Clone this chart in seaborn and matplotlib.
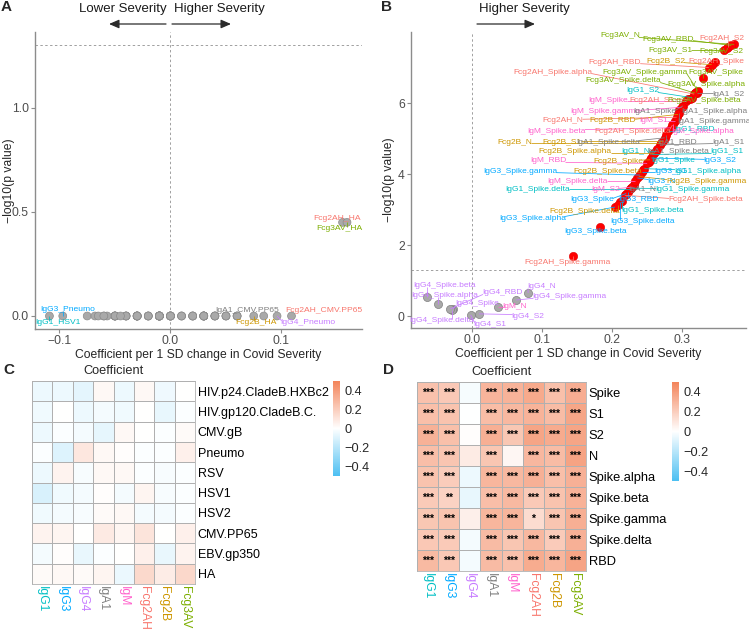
import numpy as np
import pandas as pd
import matplotlib
matplotlib.use("Agg")
import matplotlib.pyplot as plt
import seaborn as sns
from matplotlib.colors import LinearSegmentedColormap

sns.set_theme(style="white")
plt.rcParams['font.family'] = ['Liberation Sans', 'DejaVu Sans']
plt.rcParams['axes.unicode_minus'] = True

# ---------------- data ----------------
isotypes = ['IgG1', 'IgG3', 'IgG4', 'IgA1', 'IgM', 'Fcg2AH', 'Fcg2B', 'Fcg3AV']
iso_colors = {'IgG1': '#00BFC4', 'IgG3': '#00A9FF', 'IgG4': '#C77CFF', 'IgA1': '#7F7F7F',
              'IgM': '#FF61CC', 'Fcg2AH': '#F8766D', 'Fcg2B': '#CD9600', 'Fcg3AV': '#7CAE00'}

ctrl_antigens = ['HIV.p24.CladeB.HXBc2', 'HIV.gp120.CladeB.C.', 'CMV.gB', 'Pneumo', 'RSV',
                 'HSV1', 'HSV2', 'CMV.PP65', 'EBV.gp350', 'HA']
ctrl_coef = {
    'IgG1':   [-0.050, -0.040, -0.050, -0.010, -0.050, -0.109, -0.040, 0.050, -0.030, 0.020],
    'IgG3':   [-0.050, 0.000, -0.010, -0.097, 0.050, -0.040, -0.030, 0.040, 0.010, 0.030],
    'IgG4':   [-0.075, -0.050, -0.030, 0.096, -0.020, -0.030, -0.020, 0.000, -0.060, 0.020],
    'IgA1':   [0.030, -0.030, -0.068, 0.030, 0.030, 0.010, 0.020, 0.084, -0.010, 0.040],
    'IgM':    [-0.050, -0.040, 0.030, 0.010, 0.030, -0.030, 0.030, 0.040, 0.000, -0.057],
    'Fcg2AH': [0.030, 0.000, 0.000, -0.010, -0.010, 0.040, -0.030, 0.109, 0.060, 0.155],
    'Fcg2B':  [-0.045, -0.065, -0.010, -0.010, -0.020, -0.020, -0.030, 0.000, -0.060, 0.075],
    'Fcg3AV': [0.000, -0.010, 0.020, 0.060, -0.010, -0.010, -0.010, 0.060, 0.050, 0.159],
}
ctrl_neglogp = {
    'IgG1':   [0.00, 0.00, 0.00, 0.00, 0.00, 0.00, 0.00, 0.00, 0.00, 0.00],
    'IgG3':   [0.00, 0.00, 0.00, 0.00, 0.00, 0.00, 0.00, 0.00, 0.00, 0.00],
    'IgG4':   [0.00, 0.00, 0.00, 0.00, 0.00, 0.00, 0.00, 0.00, 0.00, 0.00],
    'IgA1':   [0.00, 0.00, 0.00, 0.00, 0.00, 0.00, 0.00, 0.00, 0.00, 0.00],
    'IgM':    [0.00, 0.00, 0.00, 0.00, 0.00, 0.00, 0.00, 0.00, 0.00, 0.00],
    'Fcg2AH': [0.00, 0.00, 0.00, 0.00, 0.00, 0.00, 0.00, 0.00, 0.00, 0.45],
    'Fcg2B':  [0.00, 0.00, 0.00, 0.00, 0.00, 0.00, 0.00, 0.00, 0.00, 0.00],
    'Fcg3AV': [0.00, 0.00, 0.00, 0.00, 0.00, 0.00, 0.00, 0.00, 0.00, 0.45],
}

cov_antigens = ['Spike', 'S1', 'S2', 'N', 'Spike.alpha', 'Spike.beta', 'Spike.gamma',
                'Spike.delta', 'RBD']
cov_coef = {
    'IgG1':   [0.252, 0.258, 0.314, 0.262, 0.246, 0.214, 0.227, 0.225, 0.280],
    'IgG3':   [0.220, 0.243, 0.256, 0.236, 0.204, 0.183, 0.240, 0.211, 0.223],
    'IgG4':   [-0.027, -0.002, 0.010, 0.080, -0.048, -0.064, 0.063, -0.028, -0.031],
    'IgA1':   [0.301, 0.268, 0.321, 0.231, 0.296, 0.264, 0.296, 0.275, 0.277],
    'IgM':    [0.305, 0.289, 0.229, 0.037, 0.287, 0.284, 0.299, 0.233, 0.250],
    'Fcg2AH': [0.347, 0.308, 0.366, 0.292, 0.317, 0.218, 0.144, 0.286, 0.338],
    'Fcg2B':  [0.254, 0.272, 0.342, 0.270, 0.260, 0.244, 0.238, 0.209, 0.294],
    'Fcg3AV': [0.330, 0.360, 0.364, 0.374, 0.320, 0.311, 0.322, 0.318, 0.370],
}
cov_neglogp = {
    'IgG1':   [4.35, 4.55, 6.15, 4.64, 4.15, 3.25, 3.60, 3.58, 5.20],
    'IgG3':   [3.45, 4.05, 4.45, 3.89, 3.07, 2.51, 3.97, 3.20, 3.50],
    'IgG4':   [0.19, 0.03, 0.06, 0.65, 0.34, 0.53, 0.45, 0.17, 0.20],
    'IgA1':   [5.92, 4.82, 6.27, 3.70, 5.80, 4.70, 5.72, 5.02, 5.10],
    'IgM':    [6.05, 5.50, 3.63, 0.25, 5.42, 5.30, 5.88, 3.80, 4.30],
    'Fcg2AH': [7.15, 6.10, 7.58, 5.60, 6.25, 3.40, 1.69, 5.38, 7.00],
    'Fcg2B':  [4.40, 4.92, 7.08, 4.87, 4.60, 4.10, 3.93, 3.12, 5.68],
    'Fcg3AV': [6.70, 7.50, 7.55, 7.65, 6.30, 6.12, 6.35, 6.28, 7.62],
}

# label placement (layout only): text centres in data units
labels_A = {
    'IgG3_Pneumo': (-0.093, 0.03), 'IgG1_HSV1': (-0.101, -0.03),
    'IgA1_CMV.PP65': (0.069, 0.025), 'Fcg2AH_CMV.PP65': (0.138, 0.025),
    'Fcg2B_HA': (0.077, -0.03), 'IgG4_Pneumo': (0.124, -0.03),
    'Fcg2AH_HA': (0.150, 0.47), 'Fcg3AV_HA': (0.152, 0.42),
}
labels_B = {
    'Fcg3AV_N': (0.211, 7.89), 'Fcg3AV_RBD': (0.28, 7.8), 'Fcg2AH_S2': (0.356, 7.83),
    'Fcg3AV_S1': (0.283, 7.49), 'Fcg3AV_S2': (0.356, 7.44),
    'Fcg2AH_RBD': (0.204, 7.15), 'Fcg2B_S2': (0.276, 7.18), 'Fcg2AH_Spike': (0.348, 7.18),
    'Fcg2AH_Spike.alpha': (0.116, 6.87), 'Fcg3AV_Spike.gamma': (0.247, 6.87),
    'Fcg3AV_Spike': (0.348, 6.87),
    'Fcg3AV_Spike.delta': (0.216, 6.62), 'Fcg3AV_Spike.alpha': (0.334, 6.53),
    'IgG1_S2': (0.243, 6.34), 'IgA1_S2': (0.366, 6.25),
    'IgM_Spike': (0.194, 6.08), 'Fcg2AH_S1': (0.257, 6.08), 'Fcg3AV_Spike.beta': (0.331, 6.08),
    'IgM_Spike.gamma': (0.19, 5.75), 'IgA1_Spike': (0.261, 5.75), 'IgA1_Spike.alpha': (0.346, 5.75),
    'Fcg2AH_N': (0.13, 5.5), 'Fcg2B_RBD': (0.201, 5.5), 'IgM_S1': (0.259, 5.5),
    'IgA1_Spike.gamma': (0.345, 5.47),
    'IgM_Spike.beta': (0.121, 5.21), 'Fcg2AH_Spike.delta': (0.229, 5.21),
    'IgG1_RBD': (0.317, 5.24), 'IgM_Spike.alpha': (0.329, 5.21),
    'Fcg2B_N': (0.061, 4.9), 'Fcg2B_S1': (0.129, 4.9), 'IgA1_Spike.delta': (0.194, 4.9),
    'IgA1_RBD': (0.293, 4.9), 'IgA1_S1': (0.366, 4.9),
    'Fcg2B_Spike.alpha': (0.147, 4.62), 'IgG1_N': (0.233, 4.62), 'IgA1_Spike.beta': (0.294, 4.62),
    'IgG1_S1': (0.364, 4.62),
    'IgM_RBD': (0.109, 4.37), 'Fcg2B_Spike': (0.209, 4.35), 'IgG1_Spike': (0.287, 4.37),
    'IgG3_S2': (0.354, 4.37),
    'IgG3_Spike.gamma': (0.069, 4.08), 'Fcg2B_Spike.beta': (0.194, 4.08), 'IgG3_S1': (0.283, 4.08),
    'IgG1_Spike.alpha': (0.336, 4.08),
    'IgM_Spike.delta': (0.151, 3.8), 'IgG3_N': (0.271, 3.8), 'Fcg2B_Spike.gamma': (0.334, 3.8),
    'IgG1_Spike.delta': (0.094, 3.55), 'IgM_S2': (0.19, 3.55), 'IgA1_N': (0.243, 3.55),
    'IgG1_Spike.gamma': (0.314, 3.55),
    'IgG3_Spike': (0.171, 3.27), 'IgG3_RBD': (0.237, 3.27), 'Fcg2AH_Spike.beta': (0.333, 3.27),
    'Fcg2B_Spike.delta': (0.161, 2.93), 'IgG1_Spike.beta': (0.257, 2.96),
    'IgG3_Spike.alpha': (0.086, 2.76), 'IgG3_Spike.delta': (0.243, 2.65),
    'IgG3_Spike.beta': (0.176, 2.37), 'Fcg2AH_Spike.gamma': (0.136, 1.52),
    'IgG4_Spike.beta': (-0.039, 0.87), 'IgG4_Spike.alpha': (-0.039, 0.59),
    'IgG4_RBD': (0.043, 0.65), 'IgG4_N': (0.099, 0.82), 'IgG4_Spike.gamma': (0.139, 0.54),
    'IgG4_Spike': (0.007, 0.34), 'IgM_N': (0.061, 0.28), 'IgG4_S2': (0.08, 0.0),
    'IgG4_Spike.delta': (-0.043, -0.14), 'IgG4_S1': (0.026, -0.23),
}

SIG = -np.log10(0.05)


def build(antigens, coef, nlp):
    rows = []
    for iso in isotypes:
        for ag, c, p in zip(antigens, coef[iso], nlp[iso]):
            rows.append(dict(feature=f'{iso}_{ag}', isotype=iso, antigen=ag, coef=c, neglogp=p))
    d = pd.DataFrame(rows)
    d['sig'] = np.where(d['neglogp'] > SIG, 'sig', 'ns')
    return d


dfA = build(ctrl_antigens, ctrl_coef, ctrl_neglogp)
dfB = build(cov_antigens, cov_coef, cov_neglogp)

# ---------------- figure ----------------
W, H = 749, 631
fig = plt.figure(figsize=(W / 100, H / 100), dpi=100)


def rect(l, t, r, b):
    return [l / W, 1 - b / H, (r - l) / W, (b - t) / H]


GREY_TXT = '#4D4D4D'


def style_scatter(ax, xlim, ylim, xt, xtl, yt, ytl, ylab_x):
    ax.set_xlim(*xlim)
    ax.set_ylim(*ylim)
    for s in ['top', 'right']:
        ax.spines[s].set_visible(False)
    for s in ['left', 'bottom']:
        ax.spines[s].set_color('#8C8C8C')
        ax.spines[s].set_linewidth(1.0)
    ax.set_xticks(xt)
    ax.set_xticklabels(xtl)
    ax.set_yticks(yt)
    ax.set_yticklabels(ytl)
    ax.tick_params(axis='both', which='both', length=3, width=0.8, color='#8C8C8C',
                   labelsize=8.7, labelcolor=GREY_TXT, pad=1.5, bottom=True, left=True)
    ax.axvline(0, color='#A0A0A0', lw=0.7, ls=(0, (2.5, 2.5)), zorder=0)
    ax.axhline(SIG, color='#A0A0A0', lw=0.7, ls=(0, (2.5, 2.5)), zorder=0)
    ax.set_xlabel('Coefficient per 1 SD change in Covid Severity', fontsize=8.7, labelpad=1.5)
    ax.set_ylabel('\u2212log10(p value)', fontsize=8.7, va='center')
    ax.yaxis.set_label_coords(ylab_x, 0.5)
    ax.grid(False)


def add_labels(ax, df, lab, fs):
    texts = []
    for name, (lx, ly) in lab.items():
        r = df[df['feature'] == name].iloc[0]
        t = ax.text(lx, ly, name, fontsize=fs, color=iso_colors[r['isotype']],
                    ha='center', va='center', zorder=5)
        texts.append((t, r['coef'], r['neglogp'], iso_colors[r['isotype']]))
    fig.canvas.draw()
    ren = fig.canvas.get_renderer()
    inv = ax.transData.inverted()
    for t, px, py, col in texts:
        bb = t.get_window_extent(ren)
        p = ax.transData.transform((px, py))
        cx = np.clip(p[0], bb.x0 + 1, bb.x1 - 1)
        cy = np.clip(p[1], bb.y0 + 2, bb.y1 - 2)
        if np.hypot(cx - p[0], cy - p[1]) > 4:
            q = inv.transform((cx, cy))
            ax.plot([px, q[0]], [py, q[1]], color=col, lw=0.55, zorder=4,
                    solid_capstyle='butt')


pal = {'sig': '#FF0000', 'ns': '#A9A9A9'}

# ---- Panel A ----
axA = fig.add_axes(rect(35, 32, 362, 329))
sns.scatterplot(data=dfA, x='coef', y='neglogp', hue='sig', palette=pal, s=32,
                edgecolor='#8A8A8A', linewidth=0.5, legend=False, ax=axA, zorder=3)
style_scatter(axA, (-0.122, 0.1725), (-0.0625, 1.365),
              [-0.1, 0.0, 0.1], ['\u22120.1', '0.0', '0.1'],
              [0.0, 0.5, 1.0], ['0.0', '0.5', '1.0'], (9 - 35) / 327)
add_labels(axA, dfA, labels_A, 6.1)

# ---- Panel B ----
axB = fig.add_axes(rect(411, 32, 746, 328))
sns.scatterplot(data=dfB[dfB.sig == 'ns'], x='coef', y='neglogp', color='#A9A9A9', s=34,
                edgecolor='#808080', linewidth=0.5, legend=False, ax=axB, zorder=3)
sns.scatterplot(data=dfB[dfB.sig == 'sig'], x='coef', y='neglogp', color='#FF0000', s=36,
                edgecolor='#E00000', linewidth=0.4, legend=False, ax=axB, zorder=3)
style_scatter(axB, (-0.0871, 0.391), (-0.338, 8.0),
              [0.0, 0.1, 0.2, 0.3], ['0.0', '0.1', '0.2', '0.3'],
              [0, 2, 4, 6], ['0', '2', '4', '6'], (389 - 411) / 335)
add_labels(axB, dfB, labels_B, 6.0)

# ---- header annotations ----
def fig_text(x, y, s, **kw):
    fig.text(x / W, 1 - y / H, s, **kw)


def fig_arrow(x0, x1, y):
    fig.add_artist(matplotlib.patches.FancyArrowPatch(
        (x0 / W, 1 - y / H), (x1 / W, 1 - y / H), transform=fig.transFigure,
        arrowstyle='-|>,head_length=6,head_width=2.6', color='#2B2B2B', lw=0.9,
        shrinkA=0, shrinkB=0))


fig_text(123, 9, 'Lower Severity', fontsize=9.5, ha='center', va='center', color='#1A1A1A')
fig_text(219, 9, 'Higher Severity', fontsize=9.5, ha='center', va='center', color='#1A1A1A')
fig_arrow(166, 109, 24)
fig_arrow(172, 231, 24)
fig_text(524, 9, 'Higher Severity', fontsize=9.5, ha='center', va='center', color='#1A1A1A')
fig_arrow(477, 535, 24)

for lbl, x, y in [('A', 6, 7), ('B', 386, 7), ('C', 9, 370), ('D', 388, 370)]:
    fig_text(x, y, lbl, fontsize=11, fontweight='bold', ha='center', va='center')

# ---- Heatmaps ----
cmap = LinearSegmentedColormap.from_list('bwo', ['#4CBFF2', '#FFFFFF', '#F3845A'])


def stars(p):
    pv = 10 ** (-p)
    if pv < 0.001:
        return '***'
    if pv < 0.01:
        return '**'
    if pv < 0.05:
        return '*'
    return ''


def heat(df, antigens, axrect, caxrect, annotate, rowfs):
    ax = fig.add_axes(rect(*axrect))
    cax = fig.add_axes(rect(*caxrect))
    mat = df.pivot(index='antigen', columns='isotype', values='coef').loc[antigens, isotypes]
    kw = {}
    if annotate:
        pm = df.pivot(index='antigen', columns='isotype', values='neglogp').loc[antigens, isotypes]
        kw = dict(annot=pm.map(stars), fmt='',
                  annot_kws={'fontsize': 7.5, 'color': 'black', 'fontweight': 'bold'})
    sns.heatmap(mat, cmap=cmap, vmin=-0.5, vmax=0.5, linewidths=0.6, linecolor='#B0B0B0',
                cbar_ax=cax, ax=ax, **kw)
    ax.set_xlabel('')
    ax.set_ylabel('')
    ax.yaxis.tick_right()
    ax.set_yticks(np.arange(len(antigens)) + 0.5)
    ax.set_yticklabels(antigens, rotation=0, fontsize=rowfs, color='black')
    ax.set_xticks(np.arange(len(isotypes)) + 0.5)
    ax.set_xticklabels(isotypes, rotation=270, fontsize=8.7, ha='center', va='top')
    for t in ax.get_xticklabels():
        t.set_color(iso_colors[t.get_text()])
    ax.tick_params(axis='y', length=0, pad=2)
    ax.tick_params(axis='x', length=0, pad=1.5)
    ax.set_title('Coefficient', fontsize=9.2, pad=5)
    for s in ax.spines.values():
        s.set_visible(True)
        s.set_color('#B0B0B0')
        s.set_linewidth(0.6)
    cb = ax.collections[0].colorbar
    cb.outline.set_visible(False)
    cb.set_ticks([0.4, 0.2, 0.0, -0.2, -0.4])
    cb.set_ticklabels(['0.4', '0.2', '0', '\u22120.2', '\u22120.4'])
    cax.tick_params(length=0, labelsize=9.2, pad=3)
    return ax


heat(dfA, ctrl_antigens, (32, 381, 195, 584), (333, 381, 340, 476), False, 9.0)
heat(dfB, cov_antigens, (417, 382, 586, 571), (672, 382, 679, 481), True, 9.3)

fig.savefig('out.png', dpi=100)
